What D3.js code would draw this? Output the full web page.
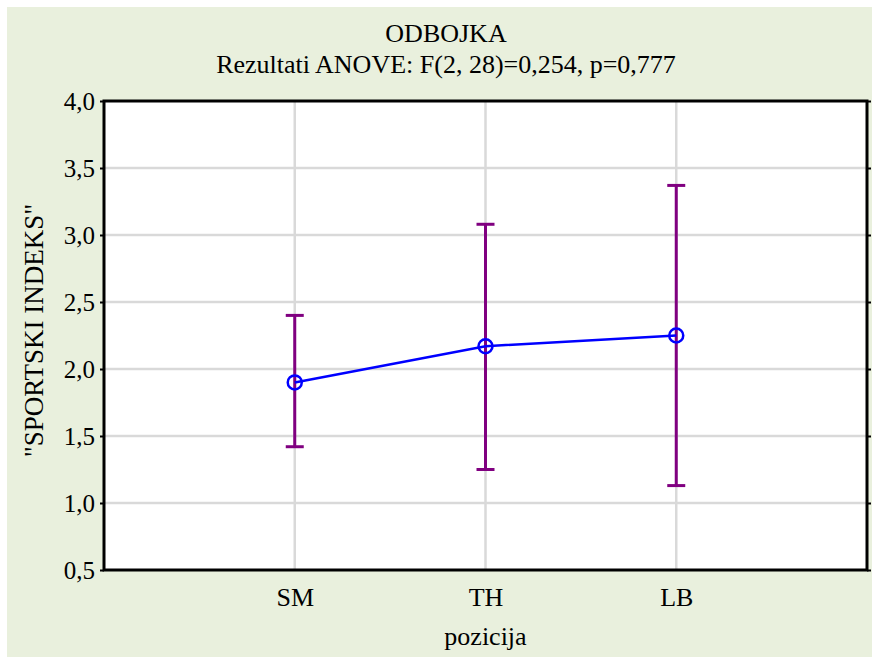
<!DOCTYPE html>
<html>
<head>
<meta charset="utf-8">
<script src="https://cdnjs.cloudflare.com/ajax/libs/d3/7.8.5/d3.min.js"></script>
<style>
	body{margin:0;background:#fff;}
</style>
</head>
<body>
<div id="plot"></div>
<script>
// data
var categories = ['SM','TH','LB'];
var means = [1.90, 2.17, 2.25];
var upper = [2.40, 3.08, 3.37];
var lower = [1.42, 1.25, 1.13];
var yTicks = [0.5,1.0,1.5,2.0,2.5,3.0,3.5,4.0];

var W = 872, H = 657;
var m = {t:101,r:5,b:87,l:104},
	w = W - m.l - m.r,
	h = H - m.t - m.b;
var SERIF = '"Liberation Serif","Tinos","Noto Serif","DejaVu Serif","FreeSerif","Nimbus Roman","Times New Roman",Times,serif';

var svg = d3.select('#plot').append('svg')
	.attr('width',W).attr('height',H);

svg.append('rect')
	.attr('x',7).attr('y',7)
	.attr('width',W-7).attr('height',H-7)
	.attr('fill','#e9f0dd');

var plot = svg.append('g')
	.attr('transform','translate('+m.l+','+m.t+')');

plot.append('rect')
	.attr('width',w).attr('height',h)
	.attr('fill','#fff');

var scaleX = d3.scaleLinear().domain([0,categories.length+1]).range([0,w]),
	scaleY = d3.scaleLinear().domain([0.5,4.0]).range([h,0]);

var fmt = function(d){ return d.toFixed(1).replace('.',','); };

//grid
plot.selectAll('.grid-y')
	.data(yTicks.slice(1,-1))
	.enter().append('line').attr('class','grid-y')
	.attr('x1',0).attr('x2',w)
	.attr('y1',function(d){return scaleY(d)})
	.attr('y2',function(d){return scaleY(d)})
	.attr('stroke','#d9d9d9').attr('stroke-width',2.5);
plot.selectAll('.grid-x')
	.data(categories)
	.enter().append('line').attr('class','grid-x')
	.attr('x1',function(d,i){return scaleX(i+1)})
	.attr('x2',function(d,i){return scaleX(i+1)})
	.attr('y1',0).attr('y2',h)
	.attr('stroke','#d9d9d9').attr('stroke-width',2.5);

//axes
var yAxis = d3.axisLeft(scaleY).tickValues(yTicks).tickFormat(fmt).tickSize(4).tickPadding(5);
var yAxisR = d3.axisRight(scaleY).tickValues(yTicks).tickFormat('').tickSize(4);
var xAxis = d3.axisBottom(scaleX)
	.tickValues(d3.range(1,categories.length+1))
	.tickFormat(function(d){return categories[d-1]})
	.tickSize(0).tickPadding(18);

plot.append('g').attr('class','axis axis-y').call(yAxis)
	.call(function(g){g.select('.domain').remove()});
plot.append('g').attr('class','axis axis-yr').attr('transform','translate('+w+',0)').call(yAxisR)
	.call(function(g){g.select('.domain').remove()});
plot.append('g').attr('class','axis axis-x').attr('transform','translate(0,'+h+')').call(xAxis)
	.call(function(g){g.select('.domain').remove()});
plot.selectAll('.axis').attr('font-family',SERIF).attr('font-size',25);
plot.selectAll('.axis-x').attr('font-size',26);
plot.selectAll('.axis text').attr('fill','#000');
plot.selectAll('.axis line').attr('stroke','#000').attr('stroke-width',2);

plot.append('rect')
	.attr('width',w).attr('height',h)
	.attr('fill','none').attr('stroke','#000').attr('stroke-width',3);

//error bars
var bars = plot.selectAll('.err')
	.data(categories)
	.enter().append('g').attr('class','err')
	.attr('stroke','#800080').attr('stroke-width',3);
bars.append('line')
	.attr('x1',function(d,i){return scaleX(i+1)})
	.attr('x2',function(d,i){return scaleX(i+1)})
	.attr('y1',function(d,i){return scaleY(upper[i])})
	.attr('y2',function(d,i){return scaleY(lower[i])});
bars.append('line')
	.attr('x1',function(d,i){return scaleX(i+1)-9})
	.attr('x2',function(d,i){return scaleX(i+1)+9})
	.attr('y1',function(d,i){return scaleY(upper[i])})
	.attr('y2',function(d,i){return scaleY(upper[i])});
bars.append('line')
	.attr('x1',function(d,i){return scaleX(i+1)-9})
	.attr('x2',function(d,i){return scaleX(i+1)+9})
	.attr('y1',function(d,i){return scaleY(lower[i])})
	.attr('y2',function(d,i){return scaleY(lower[i])});

//mean line and markers
var line = d3.line()
	.x(function(d,i){return scaleX(i+1)})
	.y(function(d){return scaleY(d)});
plot.append('path')
	.datum(means)
	.attr('d',line)
	.attr('fill','none').attr('stroke','#0000ff').attr('stroke-width',2.5);
plot.selectAll('.pt')
	.data(means)
	.enter().append('circle').attr('class','pt')
	.attr('cx',function(d,i){return scaleX(i+1)})
	.attr('cy',function(d){return scaleY(d)})
	.attr('r',7)
	.attr('fill','none').attr('stroke','#0000ff').attr('stroke-width',2.5);

//titles
function label(x,y,txt,size){
	return svg.append('text').attr('x',x).attr('y',y)
		.attr('text-anchor','middle')
		.attr('font-family',SERIF).attr('font-size',size)
		.attr('fill','#000')
		.text(txt);
}
label(446,42,'ODBOJKA',26);
label(446,73,'Rezultati ANOVE: F(2, 28)=0,254, p=0,777',26);
label(m.l+w/2,645,'pozicija',26);
label(0,0,'"SPORTSKI INDEKS"',27)
	.attr('transform','translate(43,'+(m.t+h/2-5)+') rotate(-90)');
</script>
</body>
</html>
